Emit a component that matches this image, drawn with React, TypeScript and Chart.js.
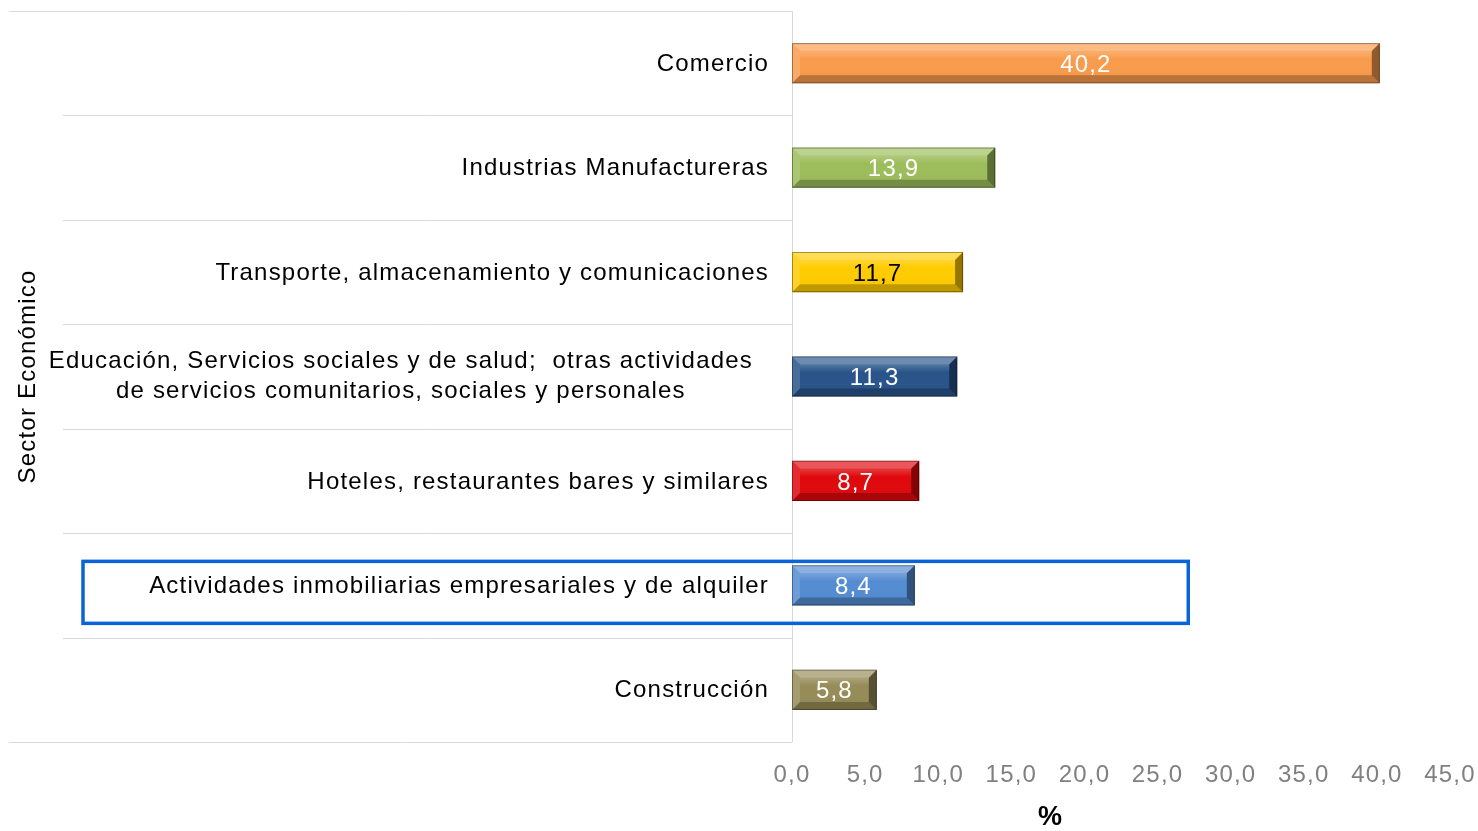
import React, { useEffect, useRef } from "react";
import { Chart, registerables } from "chart.js";

Chart.register(...registerables);

const categories: (string | string[])[] = [
  "Comercio",
  "Industrias Manufactureras",
  "Transporte, almacenamiento y comunicaciones",
  ["Educación, Servicios sociales y de salud;  otras actividades", "de servicios comunitarios, sociales y personales"],
  "Hoteles, restaurantes bares y similares",
  "Actividades inmobiliarias empresariales y de alquiler",
  "Construcción",
];
const values = [40.2, 13.9, 11.7, 11.3, 8.7, 8.4, 5.8];
const barColors = ["#F99B4C", "#9DBD5B", "#FFCC00", "#28548A", "#E0080C", "#548CD2", "#968C58"];
const labelColors = ["#ffffff", "#ffffff", "#000000", "#ffffff", "#ffffff", "#ffffff", "#ffffff"];
const xTicks = [0, 5, 10, 15, 20, 25, 30, 35, 40, 45];
const xTitle = "%";
const yTitle = "Sector Económico";
const highlightIndex = 5;
const highlightValue = 27.1;

const fmt = (v: number) => v.toFixed(1).replace(".", ",");

const FONT = "'Liberation Sans', Arial, sans-serif";

const customPlugin = {
  id: "custom",
  beforeDraw(chart: any) {
    chart.ctx.letterSpacing = "1.2px";
  },
  afterDraw(chart: any) {
    chart.ctx.letterSpacing = "0px";
  },
  beforeDatasetsDraw(chart: any) {
    const ctx = chart.ctx;
    const y = chart.scales.y;
    const area = chart.chartArea;
    ctx.save();
    ctx.letterSpacing = "1.2px";
    ctx.strokeStyle = "#d9d9d9";
    ctx.lineWidth = 1;
    const n = categories.length;
    for (let i = 0; i <= n; i++) {
      const py = Math.round(y.getPixelForValue(i - 0.5)) + 0.5;
      const x0 = i === 0 || i === n ? 9 : 63;
      ctx.beginPath();
      ctx.moveTo(x0, py);
      ctx.lineTo(area.left, py);
      ctx.stroke();
    }
    ctx.beginPath();
    ctx.moveTo(area.left + 0.5, y.getPixelForValue(-0.5));
    ctx.lineTo(area.left + 0.5, y.getPixelForValue(n - 0.5));
    ctx.stroke();

    // category labels
    ctx.fillStyle = "#000000";
    ctx.font = `24px ${FONT}`;
    ctx.textBaseline = "middle";
    categories.forEach((c, i) => {
      const cy = y.getPixelForValue(i);
      if (Array.isArray(c)) {
        const widths = c.map((s) => ctx.measureText(s).width);
        const maxW = Math.max(...widths);
        const right = area.left - 39;
        const cx = right - maxW / 2;
        ctx.textAlign = "center";
        const lh = 30;
        c.forEach((s, j) => {
          ctx.fillText(s, cx, cy + (j - (c.length - 1) / 2) * lh);
        });
      } else {
        ctx.textAlign = "right";
        ctx.fillText(c, area.left - 23, cy + 1);
      }
    });
    ctx.restore();
  },
  afterDatasetsDraw(chart: any) {
    const ctx = chart.ctx;
    const meta = chart.getDatasetMeta(0);
    const x = chart.scales.x;
    const y = chart.scales.y;
    ctx.save();
    meta.data.forEach((bar: any, i: number) => {
      const x0 = Math.min(bar.base, bar.x);
      const x1 = Math.max(bar.base, bar.x);
      const y0 = bar.y - bar.height / 2;
      const y1 = bar.y + bar.height / 2;
      const b = 8;
      const poly = (pts: number[][], fill: string) => {
        ctx.beginPath();
        ctx.moveTo(pts[0][0], pts[0][1]);
        for (let k = 1; k < pts.length; k++) ctx.lineTo(pts[k][0], pts[k][1]);
        ctx.closePath();
        ctx.fillStyle = fill;
        ctx.fill();
      };
      // top
      poly([[x0, y0], [x1, y0], [x1 - b, y0 + b], [x0 + b, y0 + b]], "rgba(255,255,255,0.32)");
      // left
      poly([[x0, y0], [x0 + b, y0 + b], [x0 + b, y1 - b], [x0, y1]], "rgba(255,255,255,0.15)");
      // bottom
      poly([[x0, y1], [x0 + b, y1 - b], [x1 - b, y1 - b], [x1, y1]], "rgba(0,0,0,0.25)");
      // right
      poly([[x1, y0], [x1, y1], [x1 - b, y1 - b], [x1 - b, y0 + b]], "rgba(0,0,0,0.42)");
      // highlight stripe
      const g = ctx.createLinearGradient(0, y0, 0, y1);
      g.addColorStop(0, "rgba(255,255,255,0)");
      g.addColorStop(0.22, "rgba(255,255,255,0.18)");
      g.addColorStop(0.4, "rgba(255,255,255,0)");
      g.addColorStop(1, "rgba(0,0,0,0.05)");
      ctx.fillStyle = g;
      ctx.fillRect(x0 + b, y0 + b, x1 - x0 - 2 * b, y1 - y0 - 2 * b);
      ctx.strokeStyle = "rgba(0,0,0,0.35)";
      ctx.lineWidth = 1;
      ctx.strokeRect(x0 + 0.5, y0 + 0.5, x1 - x0 - 1, y1 - y0 - 1);

      // value label
      ctx.letterSpacing = "1.2px";
      ctx.font = `24px ${FONT}`;
      ctx.fillStyle = labelColors[i];
      ctx.textAlign = "center";
      ctx.textBaseline = "middle";
      ctx.fillText(fmt(values[i]), (x0 + x1) / 2, bar.y + 2);
    });

    // highlight rectangle
    const cy = y.getPixelForValue(highlightIndex);
    ctx.strokeStyle = "#0A64D8";
    ctx.lineWidth = 3.5;
    ctx.strokeRect(83, cy - 24, x.getPixelForValue(highlightValue) - 83, 62);

    // x title
    ctx.letterSpacing = "0px";
    ctx.fillStyle = "#000000";
    ctx.font = `bold 27px ${FONT}`;
    ctx.textAlign = "center";
    ctx.textBaseline = "middle";
    ctx.fillText(xTitle, 1050, 818);
    ctx.restore();
  },
};

export default function App() {
  const canvasRef = useRef<HTMLCanvasElement | null>(null);
  useEffect(() => {
    document.body.style.margin = "0";
    const canvas = canvasRef.current;
    if (!canvas) return;
    const chart = new Chart(canvas, {
      type: "bar",
      data: {
        labels: categories as any,
        datasets: [
          {
            data: values,
            backgroundColor: barColors,
            borderWidth: 0,
            barPercentage: 1,
            categoryPercentage: 0.385,
          },
        ],
      },
      options: {
        indexAxis: "y",
        animation: false,
        responsive: false,
        maintainAspectRatio: false,
        layout: { padding: { left: 0, right: 28, top: 11, bottom: 0 } },
        plugins: { legend: { display: false }, tooltip: { enabled: false } },
        scales: {
          x: {
            min: 0,
            max: 45,
            afterBuildTicks: (scale: any) => {
              scale.ticks = xTicks.map((v) => ({ value: v }));
            },
            afterFit: (scale: any) => {
              scale.height = 89;
              scale.paddingRight = 0;
              scale.paddingLeft = 0;
            },
            ticks: {
              stepSize: 5,
              color: "#808080",
              font: { size: 24, family: FONT },
              padding: 19,
              maxRotation: 0,
              autoSkip: false,
              callback: (v: any) => fmt(Number(v)),
            },
            grid: { display: false, drawTicks: false },
            border: { display: false },
          },
          y: {
            afterFit: (scale: any) => {
              scale.width = 792;
            },
            ticks: { display: false },
            grid: { display: false, drawTicks: false },
            border: { display: false },
            title: {
              display: true,
              text: yTitle,
              color: "#000000",
              font: { size: 24, family: FONT },
              padding: { top: 14, bottom: 0 },
            },
          },
        },
      },
      plugins: [customPlugin],
    });
    return () => chart.destroy();
  }, []);
  return (
    <div style={{ width: 1478, height: 831, background: "#fff" }}>
      <canvas ref={canvasRef} width={1478} height={831} style={{ display: "block" }} />
    </div>
  );
}
